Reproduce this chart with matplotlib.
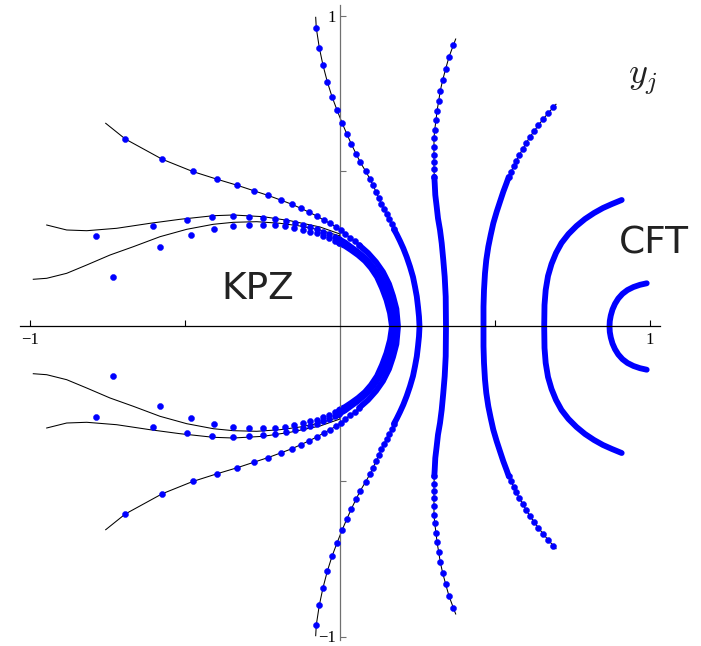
import numpy as np
import matplotlib.pyplot as plt

plt.rcParams['mathtext.fontset'] = 'cm'

# Upper branches only (y >= 0); every curve is symmetric about the real axis.
# *_dots : separated roots, *_band : region where the roots merge into a solid arc,
# *_line : continuum (black) curve where it differs from the dots.

a_tip = [(-0.7558, 0.6555)]
a_dots = [(-0.6926, 0.6048), (-0.5732, 0.5394), (-0.4752, 0.5000), (-0.3958, 0.4748),
          (-0.3313, 0.4555), (-0.2774, 0.4377), (-0.2313, 0.4226), (-0.1919, 0.4081),
          (-0.1558, 0.3945), (-0.1258, 0.3810), (-0.0990, 0.3684), (-0.0752, 0.3565),
          (-0.0526, 0.3435), (-0.0323, 0.3329), (-0.0139, 0.3219), (0.0023, 0.3103),
          (0.0171, 0.2984), (0.0323, 0.2865), (0.0474, 0.2748), (0.0623, 0.2619)]
a_band = [(0.0623, 0.2619), (0.0903, 0.2371), (0.1161, 0.2081), (0.1387, 0.1758),
          (0.1581, 0.1371), (0.1710, 0.0984), (0.1820, 0.0565), (0.1871, 0.0)]

b_line = [(-0.9461, 0.3274), (-0.8816, 0.3113), (-0.8171, 0.3090), (-0.7203, 0.3168),
          (-0.6129, 0.3329), (-0.5161, 0.3458), (-0.4087, 0.3574), (-0.3442, 0.3597),
          (-0.2474, 0.3542), (-0.1613, 0.3413), (-0.0645, 0.3210), (0.0, 0.2984)]
b_dots = [(-0.7881, 0.2929), (-0.6042, 0.3252), (-0.4926, 0.3435), (-0.4119, 0.3523),
          (-0.3461, 0.3555), (-0.2926, 0.3542), (-0.2474, 0.3510), (-0.2087, 0.3468),
          (-0.1758, 0.3403), (-0.1458, 0.3345), (-0.1184, 0.3274), (-0.0952, 0.3210),
          (-0.0742, 0.3135), (-0.0539, 0.3058), (-0.0345, 0.2984), (-0.0171, 0.2897),
          (-0.0023, 0.2813)]
b_band = [(-0.0023, 0.2813), (0.0161, 0.2710), (0.0355, 0.2565), (0.0581, 0.2403),
          (0.0806, 0.2210), (0.1032, 0.1968), (0.1226, 0.1694), (0.1419, 0.1339),
          (0.1581, 0.0919), (0.1694, 0.0500), (0.1774, 0.0)]

c_line = [(-0.9894, 0.1523), (-0.9461, 0.1555), (-0.8816, 0.1716), (-0.8171, 0.1984),
          (-0.7419, 0.2306), (-0.6668, 0.2574), (-0.5806, 0.2897), (-0.4945, 0.3135),
          (-0.4087, 0.3297), (-0.3442, 0.3361), (-0.2687, 0.3381), (-0.1935, 0.3329),
          (-0.1290, 0.3242), (-0.0645, 0.3113), (0.0, 0.2919)]
c_dots = [(-0.7323, 0.1597), (-0.5816, 0.2555), (-0.4816, 0.2952), (-0.4058, 0.3139),
          (-0.3442, 0.3242), (-0.2926, 0.3274), (-0.2474, 0.3284), (-0.2097, 0.3268),
          (-0.1765, 0.3235), (-0.1468, 0.3177), (-0.1194, 0.3123), (-0.0968, 0.3058),
          (-0.0742, 0.3006), (-0.0539, 0.2919), (-0.0345, 0.2845), (-0.0171, 0.2768),
          (-0.0023, 0.2684)]
c_band = [(-0.0023, 0.2684), (0.0161, 0.2597), (0.0355, 0.2468), (0.0581, 0.2306),
          (0.0806, 0.2113), (0.1000, 0.1887), (0.1194, 0.1597), (0.1355, 0.1242),
          (0.1500, 0.0855), (0.1613, 0.0435), (0.1677, 0.0)]

d_tip = [(-0.0784, 0.9974)]
d_dots = [(-0.0765, 0.9629), (-0.0668, 0.8994), (-0.0548, 0.8426), (-0.0410, 0.7897),
          (-0.0258, 0.7413), (-0.0097, 0.6984), (0.0065, 0.6574), (0.0216, 0.6219),
          (0.0365, 0.5887), (0.0516, 0.5574), (0.0655, 0.5297), (0.0823, 0.5016),
          (0.0968, 0.4758), (0.1065, 0.4555), (0.1161, 0.4348), (0.1248, 0.4155),
          (0.1332, 0.3961), (0.1419, 0.3781), (0.1506, 0.3619), (0.1590, 0.3458),
          (0.1668, 0.3297), (0.1742, 0.3135)]
d_band = [(0.1742, 0.3135), (0.1829, 0.2974), (0.1935, 0.2758), (0.2042, 0.2523),
          (0.2152, 0.2242), (0.2258, 0.1929), (0.2355, 0.1597), (0.2419, 0.1284),
          (0.2477, 0.0968), (0.2516, 0.0639), (0.2548, 0.0323), (0.2565, 0.0)]

e_tip = [(0.3732, 0.9274)]
e_dots = [(0.3655, 0.9071), (0.3516, 0.8694), (0.3410, 0.8316), (0.3313, 0.7952),
          (0.3235, 0.7606), (0.3184, 0.7274), (0.3129, 0.6952), (0.3097, 0.6652),
          (0.3055, 0.6348), (0.3032, 0.6071), (0.3032, 0.5800), (0.3032, 0.5542),
          (0.3032, 0.5297), (0.3032, 0.5071), (0.3042, 0.4832)]
e_band = [(0.3042, 0.4832), (0.3055, 0.4619), (0.3074, 0.4242), (0.3119, 0.3865),
          (0.3161, 0.3490), (0.3226, 0.3113), (0.3281, 0.2684), (0.3332, 0.2145),
          (0.3377, 0.1606), (0.3410, 0.0961), (0.3419, 0.0)]

f_tip = [(0.6968, 0.7168)]
f_dots = [(0.6881, 0.7071), (0.6710, 0.6877), (0.6548, 0.6684), (0.6397, 0.6490),
          (0.6258, 0.6297), (0.6119, 0.6103), (0.6000, 0.5910), (0.5894, 0.5726),
          (0.5784, 0.5532), (0.5687, 0.5348), (0.5603, 0.5168), (0.5516, 0.4994),
          (0.5442, 0.4823)]
f_band = [(0.5442, 0.4823), (0.5377, 0.4639), (0.5268, 0.4348), (0.5161, 0.4026),
          (0.5055, 0.3703), (0.4945, 0.3329), (0.4861, 0.2952), (0.4784, 0.2574),
          (0.4719, 0.2145), (0.4677, 0.1716), (0.4645, 0.1177), (0.4629, 0.0639),
          (0.4629, 0.0)]

g_band = [(0.9087, 0.4081), (0.8774, 0.3952), (0.8484, 0.3823), (0.8194, 0.3661),
          (0.7903, 0.3468), (0.7629, 0.3242), (0.7371, 0.2984), (0.7145, 0.2694),
          (0.6968, 0.2371), (0.6823, 0.2016), (0.6710, 0.1629), (0.6635, 0.1177),
          (0.6597, 0.0694), (0.6587, 0.0)]

h_band = [(0.9894, 0.1394), (0.9677, 0.1345), (0.9468, 0.1274), (0.9274, 0.1177),
          (0.9113, 0.1055), (0.8977, 0.0903), (0.8871, 0.0732), (0.8790, 0.0548),
          (0.8735, 0.0355), (0.8703, 0.0177), (0.8694, 0.0)]

BLUE = '#0000ff'


def both_halves(pts):
    p = np.array(pts, dtype=float)
    return np.vstack([p, (p * [1, -1])[::-1]])


def reflect(pts):
    p = np.array(pts, dtype=float)
    return np.vstack([p, p * [1, -1]])


fig = plt.figure(figsize=(7.01, 6.46), dpi=100)
ax = fig.add_axes([0, 0, 1, 1])

# continuum curves
curves = [
    (a_tip + a_dots + a_band[1:]),
    (b_line + b_band),
    (c_line + c_band),
    (d_tip + d_dots + d_band[1:]),
    (e_tip + e_dots + e_band[1:]),
    (f_tip + f_dots + f_band[1:]),
]
for c in curves:
    p = both_halves(c)
    ax.plot(p[:, 0], p[:, 1], color='black', lw=0.75, zorder=1)

# merged roots near the real axis
for band in [a_band, b_band, c_band, d_band, e_band, f_band, g_band, h_band]:
    p = both_halves(band)
    ax.plot(p[:, 0], p[:, 1], color=BLUE, lw=4.2, solid_capstyle='round',
            solid_joinstyle='round', zorder=2)

# individual roots
for dots in [a_dots, b_dots, c_dots, d_dots, e_dots, f_dots]:
    p = reflect(dots)
    ax.plot(p[:, 0], p[:, 1], 'o', color=BLUE, ms=4.4, mec=BLUE, mew=0.3,
            zorder=3)

ax.set_xlim(-340 / 310, 361 / 310)
ax.set_ylim(-319.5 / 310, 326.5 / 310)

for s in ['top', 'right']:
    ax.spines[s].set_visible(False)
ax.spines['bottom'].set_position('zero')
ax.spines['left'].set_position('zero')
ax.spines['bottom'].set_bounds(-1.032, 1.032)
ax.spines['left'].set_bounds(-1.011, 1.037)
ax.spines['bottom'].set_linewidth(0.9)
ax.spines['left'].set_linewidth(0.9)
ax.spines['left'].set_color('#707070')

tick_font = {'family': 'Liberation Serif', 'size': 12}
ax.set_xticks([-1, -0.5, 0.5, 1])
ax.set_xticklabels(['\u22121', '', '', '1'], fontdict=tick_font)
ax.set_yticks([-1, -0.5, 0.5, 1])
ax.set_yticklabels(['\u22121', '', '', '1'], fontdict=tick_font)
ax.tick_params(axis='x', direction='in', length=4.5, width=0.8, pad=4)
ax.tick_params(axis='y', direction='in', length=4.5, width=0.8, pad=3,
               color='#707070')

ax.text(-0.3816, 0.0877, 'KPZ', fontsize=27, color='#222222',
        family='DejaVu Sans', ha='left', va='baseline')
ax.text(0.898, 0.2339, 'CFT', fontsize=27, color='#222222',
        family='DejaVu Sans', ha='left', va='baseline')
ax.text(0.929, 0.782, r'$y_j$', fontsize=26, color='#222222',
        ha='left', va='baseline')

fig.savefig('out.png', dpi=100)
